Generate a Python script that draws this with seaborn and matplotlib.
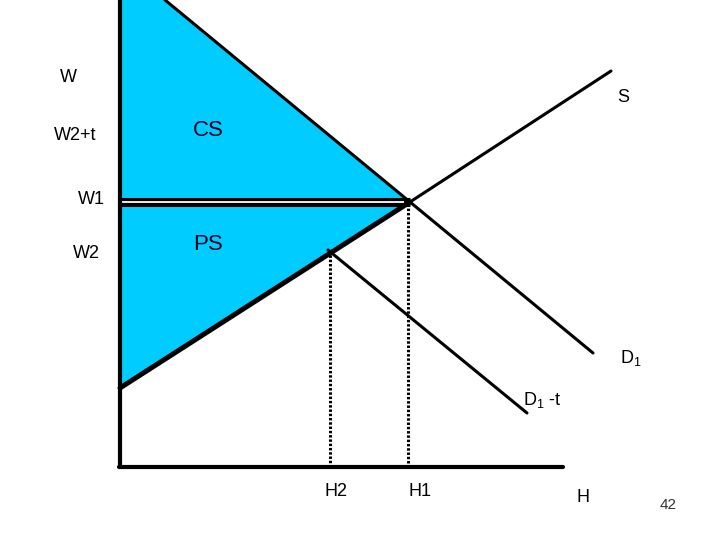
import matplotlib
matplotlib.use("Agg")
import matplotlib.pyplot as plt
import seaborn as sns
import pandas as pd

# chart units: origin at the axis corner, y pointing up
demand_x = [45, 290, 473]
demand_y = [467, 265, 114]
supply_x = [0, 290, 491]
supply_y = [79, 265, 396]
demand_tax_x = [208, 407]
demand_tax_y = [217, 54]

H1, W1 = 290, 265
H2, W2 = 210, 217
x_axis_end = 443
y_axis_top = 467

# blue surplus area (CS + PS)
surplus_x = [0, 45, 290, 0]
surplus_y = [467, 467, 265, 79]

sns.set_style("white")
plt.rcParams['font.family'] = ['Liberation Sans', 'DejaVu Sans']
plt.rcParams['text.color'] = 'black'
plt.rcParams['mathtext.fontset'] = 'custom'
plt.rcParams['mathtext.rm'] = 'Liberation Sans'

fig = plt.figure(figsize=(7.2, 5.4), dpi=100)
ax = fig.add_axes([0, 0, 1, 1])
ax.set_xlim(-120, 600)
ax.set_ylim(-73, 467)
ax.axis('off')

ax.fill(surplus_x, surplus_y, color='#00CCFF', lw=0, zorder=1)

lines = pd.DataFrame({'x': demand_x, 'y': demand_y})
sns.lineplot(data=lines, x='x', y='y', sort=False, color='black', lw=2.2, ax=ax, zorder=3)
sns.lineplot(x=supply_x, y=supply_y, sort=False, color='black', lw=2.2, ax=ax, zorder=3)
sns.lineplot(x=supply_x[:2], y=supply_y[:2], sort=False, color='black', lw=3.6, ax=ax, zorder=3)
sns.lineplot(x=demand_tax_x, y=demand_tax_y, sort=False, color='black', lw=2.2, ax=ax, zorder=3)

# W1 double line
ax.plot([0, H1], [W1, W1], color='black', lw=6.5, solid_capstyle='butt', zorder=4)
ax.plot([0, H1 - 6], [W1, W1], color='white', lw=1.3, solid_capstyle='butt', zorder=5)

# dotted drop lines
ax.vlines(H2, 0, W2, color='black', lw=2.2, linestyles=(0, (0.8, 0.6)), zorder=2)
ax.vlines(H1 - 2, 4, W1 - 3, color='black', lw=2.2, linestyles=(0, (0.8, 0.6)), zorder=2)

# axes
ax.plot([0, 0], [0, y_axis_top], color='black', lw=3, zorder=6)
ax.plot([-1, x_axis_end], [0, 0], color='black', lw=3, zorder=6)

fs = 13
ax.text(-52, 390, "W", fontsize=fs, ha='center', va='center')
ax.text(-45, 331, "W2+t", fontsize=fs, ha='center', va='center')
ax.text(-29, 268, "W1", fontsize=fs, ha='center', va='center')
ax.text(-34, 214, "W2", fontsize=fs, ha='center', va='center')
ax.text(88, 336, "CS", fontsize=16, ha='center', va='center', color='#000022')
ax.text(88, 223, "PS", fontsize=16, ha='center', va='center', color='#000022')
ax.text(503, 370, "S", fontsize=fs, ha='center', va='center')
ax.text(500, 109, r"D$_\mathregular{1}$", fontsize=fs, ha='left', va='center')
ax.text(403, 67, r"D$_\mathregular{1}$ -t", fontsize=fs, ha='left', va='center')
ax.text(216, -25, "H2", fontsize=fs, ha='center', va='center')
ax.text(300, -25, "H1", fontsize=fs, ha='center', va='center')
ax.text(463, -31, "H", fontsize=fs, ha='center', va='center')
ax.text(548, -38, "42", fontsize=11, ha='center', va='center', color='#333333')

fig.savefig("out.png", dpi=100)
